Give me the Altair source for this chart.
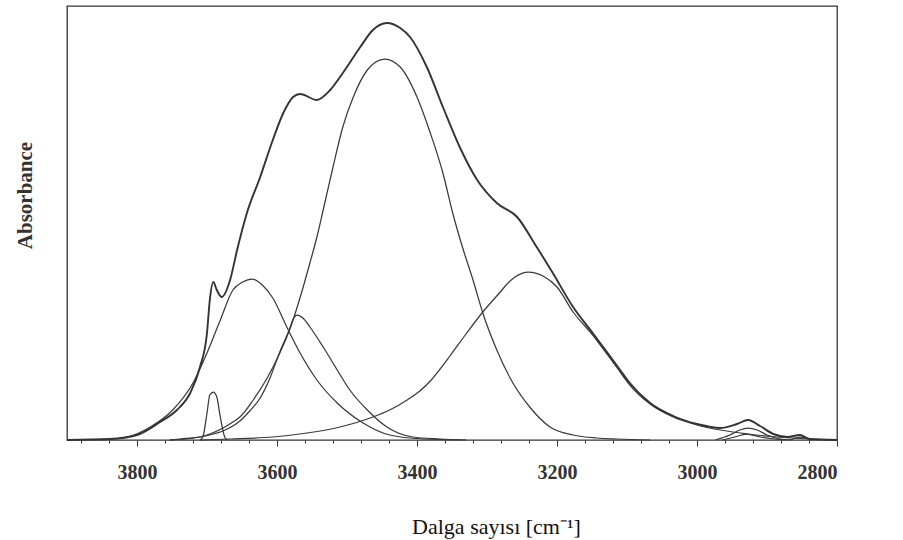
import altair as alt
import pandas as pd

# Wavenumbers (cm-1) and absorbance (arbitrary units, frame top = 434)
ENV_WN = [3900, 3839, 3800, 3767, 3743, 3724, 3710, 3700, 3696, 3691, 3686, 3679, 3667, 3657, 3643,
          3624, 3606, 3591, 3577, 3567, 3543, 3524, 3506, 3481, 3463, 3443, 3424, 3410, 3386, 3363,
          3339, 3314, 3286, 3257, 3229, 3206, 3177, 3149, 3114, 3096, 3067, 3034, 3000, 2967, 2943,
          2927, 2910, 2891, 2871, 2853, 2839, 2800]
ENV_A = [0, 1, 5, 18, 30, 47, 73, 107, 140, 158, 150, 143, 160, 190, 227,
         263, 300, 327, 343, 346, 340, 350, 367, 393, 410, 417, 412, 403, 373, 333,
         293, 260, 237, 223, 193, 167, 133, 107, 74, 57, 37, 24, 16, 12, 16,
         20, 14, 6, 3, 5, 1, 0]

A_WN = [3710, 3706, 3700, 3696, 3691, 3686, 3681, 3674, 3670]
A_A = [0, 3, 27, 45, 48, 43, 23, 2, 0]

B_WN = [3853, 3814, 3781, 3749, 3720, 3700, 3681, 3663, 3649, 3636, 3621, 3606, 3586, 3567,
        3543, 3514, 3477, 3439, 3391, 3339]
B_A = [0, 3, 13, 30, 57, 87, 120, 150, 158, 161, 155, 142, 113, 87, 60, 37, 17, 5, 1, 0]

C_WN = [3753, 3739, 3703, 3674, 3653, 3639, 3624, 3610, 3596, 3581, 3577, 3571, 3563, 3553,
        3534, 3514, 3496, 3471, 3443, 3406, 3367, 3330]
C_A = [0, 1, 4, 10, 19, 29, 42, 62, 88, 113, 121, 125, 122, 113, 93, 70, 50, 30, 13, 3, 1, 0]

D_WN = [3753, 3729, 3700, 3663, 3653, 3634, 3614, 3596, 3581, 3563, 3553, 3543, 3534, 3520,
        3506, 3491, 3471, 3459, 3446, 3424, 3400, 3381, 3363, 3349, 3336, 3320, 3306, 3286,
        3263, 3239, 3210, 3177, 3143, 3114, 3067]
D_A = [0, 1, 5, 18, 23, 40, 62, 87, 112, 152, 177, 203, 230, 273, 313, 343, 370, 378, 381,
       373, 343, 307, 267, 227, 195, 160, 127, 90, 57, 33, 13, 5, 2, 1, 0]

E_WN = [3710, 3667, 3606, 3557, 3510, 3463, 3439, 3414, 3396, 3381, 3367, 3353, 3330, 3306,
        3281, 3270, 3260, 3241, 3220, 3200, 3177, 3149, 3114, 3096, 3067, 3034, 3000, 2967,
        2927, 2886, 2839, 2800]
E_A = [0, 1, 3, 7, 13, 23, 30, 40, 49, 59, 71, 84, 106, 128, 148, 157, 163, 168, 164, 153,
       128, 105, 72, 55, 36, 23, 15, 10, 6, 3, 1, 0]

F1_WN = [2974, 2953, 2939, 2927, 2914, 2900, 2881, 2867]
F1_A = [0, 5, 10, 12, 10, 5, 1, 0]
F2_WN = [2964, 2946, 2929, 2910, 2889, 2874]
F2_A = [0, 3, 6, 3, 1, 0]
G_WN = [2867, 2853, 2836]
G_A = [0, 3, 0]

MAJOR_TICKS = [3800, 3600, 3400, 3200, 3000, 2800]
MINOR_STEP = 40

components = {
    "A": (A_WN, A_A), "B": (B_WN, B_A), "C": (C_WN, C_A), "D": (D_WN, D_A),
    "E": (E_WN, E_A), "F1": (F1_WN, F1_A), "F2": (F2_WN, F2_A), "G": (G_WN, G_A),
}

comp_rows = []
for name, (wn, a) in components.items():
    for w, v in zip(wn, a):
        comp_rows.append({"wn": w, "abs": v, "series": name})
comp_df = pd.DataFrame(comp_rows)
env_df = pd.DataFrame({"wn": ENV_WN, "abs": ENV_A, "series": "Toplam"})

tick_values = list(range(2800, 3901, MINOR_STEP))

x_enc = alt.X(
    "wn:Q",
    scale=alt.Scale(domain=[2800, 3900], reverse=True, nice=False, zero=False),
    axis=alt.Axis(
        values=tick_values,
        labelExpr="datum.value % 200 === 0 ? datum.label : ''",
        format="d",
        grid=False,
        domain=False,
        tickColor="#333333",
        tickWidth=1,
        tickSize={"condition": {"test": "datum.value % 200 === 0", "value": 6}, "value": 3},
        labelFont="Liberation Serif",
        labelFontWeight="bold",
        labelFontSize=20,
        labelColor="#333333",
        labelPadding=16,
        title="Dalga sayısı [cm⁻¹]",
        titleFont="Liberation Serif",
        titleFontWeight="normal",
        titleFontSize=22,
        titleColor="#111111",
        titleX=429,
        titleY=86,
        titleAlign="center",
        titleBaseline="middle",
    ),
)
y_enc = alt.Y(
    "abs:Q",
    scale=alt.Scale(domain=[0, 434], nice=False, zero=True),
    axis=alt.Axis(
        labels=False, ticks=False, domain=False, grid=False,
        title="Absorbance",
        titleFont="Liberation Serif",
        titleFontWeight="bold",
        titleFontSize=21,
        titleColor="#333333",
        titleX=-42,
        titleY=189,
        titleAngle=270,
        titleAlign="center",
        titleBaseline="middle",
    ),
)

comp = alt.Chart(comp_df).mark_line(
    interpolate="monotone", color="#3a3a3a", strokeWidth=1.25
).encode(x=x_enc, y=y_enc, detail="series:N")

env = alt.Chart(env_df).mark_line(
    interpolate="monotone", color="#333333", strokeWidth=1.9
).encode(x=x_enc, y=y_enc)

chart = alt.layer(comp, env).properties(
    width=770,
    height=434,
    autosize=alt.AutoSizeParams(type="none"),
    padding={"left": 67, "top": 6, "right": 66, "bottom": 100},
    background="white",
).configure_view(stroke="#333333", strokeWidth=1.3)

chart.save("out.html", embed_options={"renderer": "svg", "actions": False})
